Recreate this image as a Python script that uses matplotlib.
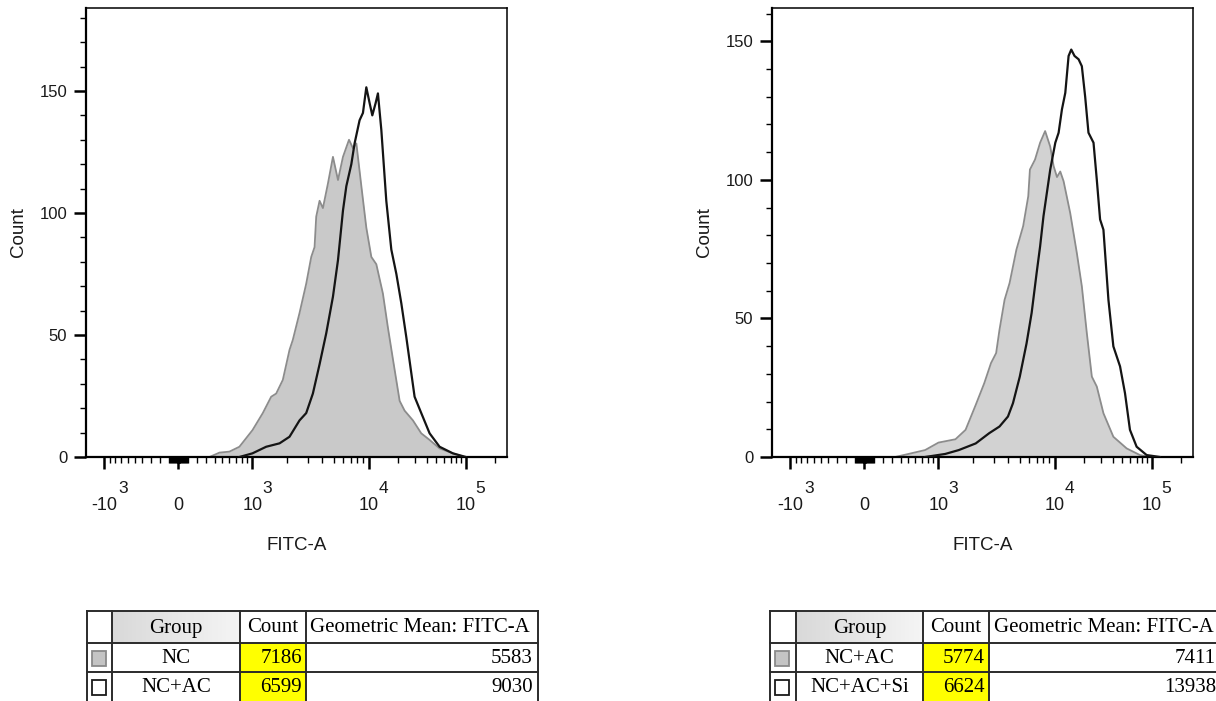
import numpy as np
import matplotlib
matplotlib.use('Agg')
import matplotlib.pyplot as plt
from matplotlib.patches import Rectangle
from matplotlib.ticker import FixedLocator

plt.rcParams['font.family'] = ['Liberation Sans', 'DejaVu Sans']

# ---- histogram data (FITC-A intensity, count) ----
left_nc_x = [338, 464, 602, 759, 1000, 1227, 1449, 1600, 1825, 2084, 2225, 2541, 2901, 3206, 3423,
             3538, 3781, 4040, 4460, 4929, 5447, 6012, 6776, 7341, 7839, 8655, 9550, 10660, 12000,
             14030, 15810, 17820, 20890, 23500, 28640, 34910, 42560, 53950, 73960, 97720]
left_nc_y = [0, 1.8, 2.2, 4.2, 11, 18, 24.7, 26, 31.6, 43.9, 48, 59, 71, 82, 86, 98.5, 105, 102, 112,
             123, 113.5, 123, 130, 126.5, 128.5, 111, 94, 82, 79, 67, 53, 40, 23, 19, 15, 9.7, 7,
             3.5, 1.5, 0]

left_ac_x = [759, 1000, 1312, 1710, 2084, 2541, 2901, 3311, 3781, 4315, 4929, 5447, 6012, 6427, 7096,
             7568, 8356, 8933, 9550, 10240, 10910, 11800, 12470, 13520, 15210, 17140, 19320, 21730,
             24490, 29790, 34910, 42560, 53950, 73960, 100700]
left_ac_y = [0, 1.5, 4.2, 5.6, 8.3, 15, 18, 26, 38, 50.7, 65.7, 80.7, 101, 111, 120, 128.5, 138, 141,
             151.5, 145, 140, 145, 149, 134, 105, 85, 75, 63, 49, 24.7, 18, 9.7, 4.2, 1.5, 0]

right_ac_x = [335, 504, 754, 1000, 1400, 1711, 2093, 2477, 2833, 3136, 3352, 3707, 4096, 4687, 5358,
              5929, 6126, 6776, 7498, 8283, 9163, 9795, 10570, 11430, 12370, 14480, 16940, 19080,
              21480, 24200, 27230, 31870, 40360, 55350, 75860, 96160]
right_ac_y = [0, 1.1, 2.5, 5.2, 6.4, 9.8, 18.8, 26.6, 33.9, 37.5, 45.9, 56.7, 62.8, 74.8, 83.3, 94.1,
              103.7, 107.3, 113.4, 117.6, 112, 105, 101, 103, 99.5, 88, 73.6, 61.6, 44.7, 29, 25.4,
              15.8, 7.3, 3.1, 0.7, 0]

right_si_x = [754, 1143, 1496, 2093, 2735, 3352, 3963, 4377, 5012, 5731, 6339, 6998, 7498, 8017, 9163,
              10160, 10990, 11890, 12880, 13930, 14840, 16040, 17660, 19080, 20650, 22340, 25180,
              27230, 29440, 31870, 35890, 40360, 47290, 53210, 59840, 70150, 88920, 121900]
right_si_y = [0, 1.1, 2.5, 4.9, 8.6, 11, 14.6, 19.4, 29, 41, 52, 66.4, 76, 86.9, 103.7, 113.4, 117,
              125.4, 131.4, 144.7, 147, 144.7, 143.5, 141, 130, 117, 113.4, 100, 85.7, 82, 56.7,
              39.9, 32.7, 23, 9.8, 3.7, 0.7, 0]

# ---- table data ----
table_cols = ['Group', 'Count', 'Geometric Mean: FITC-A']
left_groups = ['NC', 'NC+AC']
left_counts = [7186, 6599]
left_gmean = [5583, 9030]
right_groups = ['NC+AC', 'NC+AC+Si']
right_counts = [5774, 6624]
right_gmean = [7411, 13938]

x_major = [-1000, 0, 1000, 10000, 100000]
x_base_labels = ['-10', '0', '10', '10', '10']
x_exponents = ['3', '', '3', '4', '5']


# biexponential-like display transform (linear-ish near 0, log above 10^3)
C = 600.0
U1 = np.arcsinh(1000 / C)


def fwd(x):
    x = np.asarray(x, float)
    a = np.abs(x)
    lin = np.arcsinh(x / C) / U1
    lo = 1 + 1.57 * np.log10(np.maximum(a, 1000) / 1000)
    hi = 2.57 + 1.31 * np.log10(np.maximum(a, 1e4) / 1e4)
    big = np.where(a <= 1e4, lo, hi)
    return np.where(a <= 1000, lin, np.sign(x) * big)


def inv(d):
    d = np.asarray(d, float)
    a = np.abs(d)
    lin = C * np.sinh(np.clip(d, -3, 3) * U1)
    lo = 1000 * 10 ** ((np.clip(a, 1, 2.57) - 1) / 1.57)
    hi = 1e4 * 10 ** ((np.clip(a, 2.57, 6) - 2.57) / 1.31)
    big = np.where(a <= 2.57, lo, hi)
    return np.where(a <= 1, lin, np.sign(d) * big)


minor = []
for dec in [1, 10, 100]:
    for m in range(1, 10):
        minor += [m * dec, -m * dec]
minor += [m * 1000 for m in range(2, 10)] + [m * 10000 for m in range(2, 10)] + [200000]

fig = plt.figure(figsize=(12.16, 7.01), dpi=100)
W, H = 1216, 701
ink = '#1a1a1a'


def hist_panel(left_px, ymax, fill_x, fill_y, line_x, line_y, fill_col):
    ax = fig.add_axes([left_px / W, 1 - 457 / H, 421 / W, 449 / H])
    ax.set_xscale('function', functions=(fwd, inv))
    ax.fill_between(fill_x, fill_y, 0, color=fill_col, lw=0, zorder=1)
    ax.plot(fill_x, fill_y, color='#8c8c8c', lw=1.3, zorder=2)
    ax.plot(line_x, line_y, color='#141414', lw=1.6, zorder=3)
    ax.set_xlim(float(inv(-1.25)), float(inv(4.44)))
    ax.set_ylim(0, ymax)
    ax.xaxis.set_major_locator(FixedLocator(x_major))
    ax.xaxis.set_minor_locator(FixedLocator(minor))
    ax.set_xticklabels(x_base_labels, fontsize=13, color=ink)
    # exponents of the decade labels
    for val, base, e in zip(x_major, x_base_labels, x_exponents):
        if e:
            dx = 14 if base.startswith('-') else 10
            ax.annotate(e, xy=(val, 0), xycoords=('data', 'axes fraction'),
                        xytext=(dx, -36), textcoords='offset pixels',
                        ha='left', va='baseline', fontsize=12.5, color=ink)
    ax.yaxis.set_major_locator(FixedLocator([0, 50, 100, 150]))
    ax.yaxis.set_minor_locator(FixedLocator([v for v in range(10, int(ymax) + 1, 10) if v % 50]))
    ax.set_yticklabels(['0', '50', '100', '150'], fontsize=12, color=ink)
    ax.tick_params(which='major', direction='out', length=8.5, width=1.8)
    ax.tick_params(which='minor', direction='out', length=4.5, width=1.0)
    ax.tick_params(axis='x', which='major', pad=20)
    ax.tick_params(axis='y', which='major', pad=5)
    for s in ['left', 'bottom']:
        ax.spines[s].set_linewidth(1.6)
    for s in ['top', 'right']:
        ax.spines[s].set_linewidth(1.1)
    ax.set_xlabel('FITC-A', fontsize=13.5, color=ink)
    ax.xaxis.set_label_coords(0.5, -0.178)
    ax.set_ylabel('Count', fontsize=13.5, color=ink)
    ax.yaxis.set_label_coords(-0.14, 0.5)
    return ax


hist_panel(86, 184, left_nc_x, left_nc_y, left_ac_x, left_ac_y, '#c9c9c9')
hist_panel(772, 162, right_ac_x, right_ac_y, right_si_x, right_si_y, '#d2d2d2')

# ---- summary tables ----
tab = fig.add_axes([0, 0, 1, 1])
tab.set_xlim(0, W)
tab.set_ylim(H, 0)
tab.axis('off')

serif = ['Liberation Serif', 'DejaVu Serif']
shade = np.linspace(0.85, 0.96, 64)
grad = np.dstack([shade, shade, shade]).reshape(1, -1, 3)
fs = 15


def draw_table(cols, groups, counts, gmean):
    c0, c1, c2, c3, c4 = cols
    rows = [611, 643, 672, 702]
    # group header gradient and yellow count cells
    tab.imshow(grad, extent=(c1, c2, rows[1], rows[0]), aspect='auto', zorder=1)
    for i in range(len(groups)):
        tab.add_patch(Rectangle((c2, rows[i + 1]), c3 - c2, rows[i + 2] - rows[i + 1],
                                facecolor='#ffff00', edgecolor='none', zorder=1))
    lc = '#2b2b2b'
    for x in [c0, c1, c2, c3, c4]:
        tab.plot([x, x], [rows[0], rows[-1]], color=lc, lw=1.4, zorder=3)
    for y in rows[:3]:
        tab.plot([c0, c4], [y, y], color=lc, lw=1.4, zorder=3)
    hy = (rows[0] + rows[1]) / 2 + 1
    tab.text((c1 + c2) / 2, hy, table_cols[0], ha='center', va='center', family=serif, fontsize=fs)
    tab.text((c2 + c3) / 2, hy, table_cols[1], ha='center', va='center', family=serif, fontsize=fs)
    tab.text(c3 + 4.5, hy, table_cols[2], ha='left', va='center', family=serif, fontsize=fs)
    box_styles = [('#c4c4c4', '#8a8a8a'), ('white', '#1a1a1a')]
    for i, g in enumerate(groups):
        ry = (rows[i + 1] + rows[i + 2]) / 2 + 1
        fc, ec = box_styles[i]
        tab.add_patch(Rectangle((c0 + 5, ry - 8), 14, 15, facecolor=fc, edgecolor=ec, lw=1.3, zorder=4))
        tab.text((c1 + c2) / 2, ry, g, ha='center', va='center', family=serif, fontsize=fs)
        tab.text(c3 - 4, ry, str(counts[i]), ha='right', va='center', family=serif, fontsize=fs,
                 color='black')
        tab.text(c4 - 5, ry, str(gmean[i]), ha='right', va='center', family=serif, fontsize=fs)


draw_table([87, 112, 240, 306, 538], left_groups, left_counts, left_gmean)
draw_table([770, 796, 923, 989, 1221], right_groups, right_counts, right_gmean)
tab.set_xlim(0, W)
tab.set_ylim(H, 0)

fig.savefig('out.png', dpi=100)
